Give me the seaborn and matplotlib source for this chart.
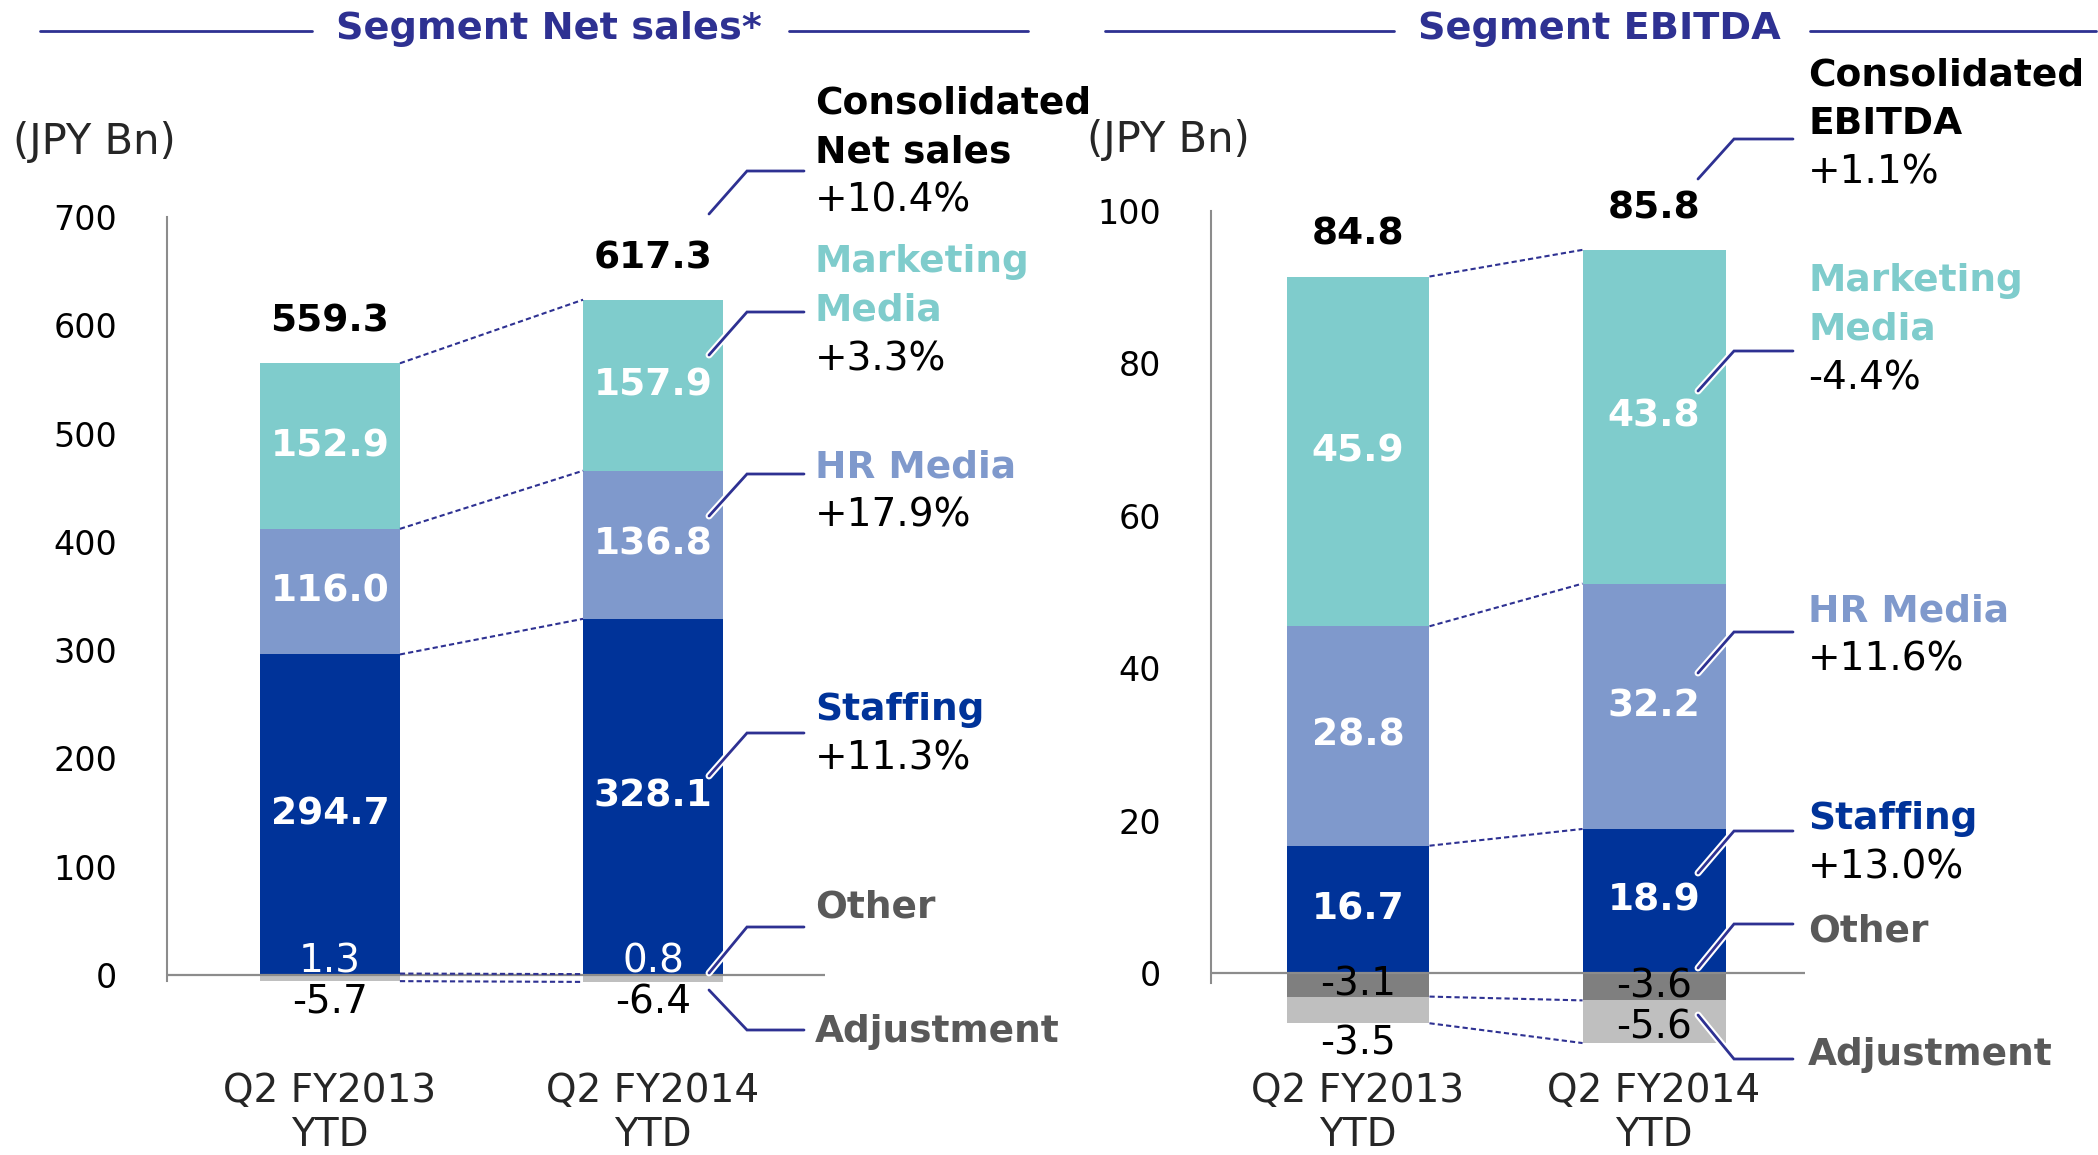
import numpy as np
import seaborn as sns
import matplotlib.pyplot as plt
import matplotlib.transforms as mtransforms
from matplotlib import patheffects
from matplotlib.lines import Line2D

W, H = 2098, 1155

periods = ["Q2 FY2013\nYTD", "Q2 FY2014\nYTD"]

# Segment net sales (JPY Bn)
sales_other = [1.3, 0.8]
sales_staffing = [294.7, 328.1]
sales_hr = [116.0, 136.8]
sales_marketing = [152.9, 157.9]
sales_adjustment = [-5.7, -6.4]
sales_total = [559.3, 617.3]
sales_ticks = [0, 100, 200, 300, 400, 500, 600, 700]
sales_names = ["Consolidated\nNet sales", "Marketing\nMedia", "HR Media", "Staffing", "Other", "Adjustment"]
sales_growth = ["+10.4%", "+3.3%", "+17.9%", "+11.3%", "", ""]

# Segment EBITDA (JPY Bn)
ebitda_other = [-3.1, -3.6]
ebitda_staffing = [16.7, 18.9]
ebitda_hr = [28.8, 32.2]
ebitda_marketing = [45.9, 43.8]
ebitda_adjustment = [-3.5, -5.6]
ebitda_total = [84.8, 85.8]
ebitda_ticks = [0, 20, 40, 60, 80, 100]
ebitda_names = ["Consolidated\nEBITDA", "Marketing\nMedia", "HR Media", "Staffing", "Other", "Adjustment"]
ebitda_growth = ["+1.1%", "-4.4%", "+11.6%", "+13.0%", "", ""]

STAFF = "#003399"
HR = "#7F99CC"
MKT = "#7FCCCC"
OTHER = "#7F7F7F"
ADJ = "#BFBFBF"
INDIGO = "#2E3192"
GREY_TXT = "#595959"
AXIS = "#8C8C8C"
name_colors = ["black", MKT, HR, STAFF, GREY_TXT, GREY_TXT]

sns.set_style("white")
plt.rcParams["font.family"] = ["DejaVu Sans"]

fig = plt.figure(figsize=(W / 100, H / 100), dpi=100)


def fx(x):
    return x / W


def fy(y):
    return 1 - y / H


def draw_panel(ax, other, staffing, hr, marketing, adjustment, totals, width, ticks, ylim, xlim, spine_low):
    other = np.array(other)
    pos_base = np.where(other > 0, other, 0.0)
    staff_top = pos_base + np.array(staffing)
    hr_top = staff_top + np.array(hr)
    mkt_top = hr_top + np.array(marketing)
    neg_base = np.where(other < 0, other, 0.0)
    adj_bottom = neg_base + np.array(adjustment)

    # overlapping bars, outermost first
    layers = [(mkt_top, MKT), (hr_top, HR), (staff_top, STAFF), (pos_base, OTHER),
              (adj_bottom, ADJ), (neg_base, OTHER)]
    for vals, col in layers:
        sns.barplot(x=periods, y=vals, color=col, width=width, saturation=1,
                    errorbar=None, linewidth=0, edgecolor="none", ax=ax)

    ax.set_xlim(*xlim)
    ax.set_ylim(*ylim)
    ax.set_xlabel("")
    ax.set_ylabel("")
    ax.set_xticks([])
    ax.set_yticks(ticks)
    ax.set_yticklabels([str(t) for t in ticks])
    ax.tick_params(axis="y", length=8, width=1.5, color=AXIS, pad=28, labelsize=24, labelcolor="black")
    sns.despine(ax=ax, bottom=True)
    ax.spines["left"].set_color(AXIS)
    ax.spines["left"].set_linewidth(1.5)
    ax.spines["left"].set_bounds(spine_low, ticks[-1])
    ax.axhline(0, color=AXIS, lw=1.6, zorder=3)

    # px per data unit for label placement decisions
    scale = ax.transData.transform((0, 1))[1] - ax.transData.transform((0, 0))[1]

    for i in range(len(periods)):
        for lo, hi in [(pos_base[i], staff_top[i]), (staff_top[i], hr_top[i]), (hr_top[i], mkt_top[i])]:
            ax.text(i, (lo + hi) / 2, f"{hi - lo:.1f}", ha="center", va="center",
                    color="white", fontsize=27, fontweight="bold", zorder=4)
        ax.annotate(f"{totals[i]:.1f}", xy=(i, mkt_top[i]), xytext=(0, 30), textcoords="offset points",
                    ha="center", va="center", fontsize=27, fontweight="bold", color="black")
        if other[i] > 0:
            ax.annotate(f"{other[i]:.1f}", xy=(i, 0), xytext=(0, 2), textcoords="offset points",
                        ha="center", va="baseline", fontsize=28, color="white", zorder=4)
        else:
            ax.text(i, other[i] / 2, f"{other[i]:.1f}", ha="center", va="center",
                    fontsize=28, color="black", zorder=4)
        adj = adjustment[i]
        if abs(adj) * scale > 35:
            ax.annotate(f"{adj:.1f}", xy=(i, (neg_base[i] + adj_bottom[i]) / 2), xytext=(0, -4),
                        textcoords="offset points", ha="center", va="center",
                        fontsize=28, color="black", zorder=4)
        else:
            ax.annotate(f"{adj:.1f}", xy=(i, adj_bottom[i]), xytext=(0, -1), textcoords="offset points",
                        ha="center", va="top", fontsize=28, color="black", zorder=4)

    # dashed connectors between the two bars
    bounds = [mkt_top, hr_top, staff_top, adj_bottom]
    if np.any(pos_base > 0):
        bounds.append(pos_base)
    if np.any(neg_base < 0):
        bounds.append(neg_base)
    for b in bounds:
        ax.plot([width / 2, 1 - width / 2], [b[0], b[1]], color=INDIGO, lw=1.5,
                ls=(0, (2.5, 1.5)), zorder=3)

    # category labels below the axes
    trans = mtransforms.blended_transform_factory(ax.transData, fig.transFigure)
    for i, p in enumerate(periods):
        fig.text(i, fy(1113), p, transform=trans, ha="center", va="center",
                 fontsize=28, linespacing=1.2)


def callouts(names, growth, text_x, name_y, leaders, lx0, lx1, lx2):
    for name, g, col, y0, (sy, ky) in zip(names, growth, name_colors, name_y, leaders):
        lines = name.split("\n")
        for k, ln in enumerate(lines):
            fig.text(fx(text_x), fy(y0 + k * 48.5), ln, ha="left", va="center",
                     fontsize=27, fontweight="bold", color=col)
        if g:
            fig.text(fx(text_x), fy(y0 + len(lines) * 48.5), g, ha="left", va="center",
                     fontsize=28, color="black")
        fig.add_artist(Line2D([fx(lx0), fx(lx1), fx(lx2)], [fy(sy), fy(ky), fy(ky)],
                              transform=fig.transFigure, color=INDIGO, lw=2,
                              solid_joinstyle="miter", zorder=5,
                              path_effects=[patheffects.withStroke(linewidth=5, foreground="white")]))


def title(text, cx, lines):
    fig.text(fx(cx), fy(29), text, ha="center", va="center", fontsize=27.5,
             fontweight="bold", color=INDIGO)
    for a, b in lines:
        fig.add_artist(Line2D([fx(a), fx(b)], [fy(31), fy(31)], transform=fig.transFigure,
                              color=INDIGO, lw=2))


# left panel: net sales
ax1 = fig.add_axes([fx(167), fy(985.8), (825 - 167) / W, (985.8 - 217) / H])
draw_panel(ax1, sales_other, sales_staffing, sales_hr, sales_marketing, sales_adjustment,
           sales_total, 0.433, sales_ticks, (-10, 700), (-0.5046, 1.5325), -6)

# right panel: EBITDA
ax2 = fig.add_axes([fx(1211), fy(1064.4), (1805 - 1211) / W, (1064.4 - 211) / H])
draw_panel(ax2, ebitda_other, ebitda_staffing, ebitda_hr, ebitda_marketing, ebitda_adjustment,
           ebitda_total, 0.483, ebitda_ticks, (-12, 100), (-0.4966, 1.510), -1.3)

title("Segment Net sales*", 549, [(40, 312), (789, 1028)])
title("Segment EBITDA", 1599, [(1105, 1394), (1810, 2096)])

fig.text(fx(13), fy(142), "(JPY Bn)", ha="left", va="center", fontsize=30)
fig.text(fx(1087), fy(140), "(JPY Bn)", ha="left", va="center", fontsize=30)

callouts(sales_names, sales_growth, 815, [104, 262, 467, 710, 907, 1032],
         [(214, 171), (355, 312), (516, 474), (776, 733), (973, 927), (990, 1030)],
         709, 747, 804)
callouts(ebitda_names, ebitda_growth, 1808, [75, 281, 611, 819, 931, 1055],
         [(179, 139), (391, 351), (673, 632), (873, 831), (968, 924), (1015, 1059)],
         1698, 1734, 1793)

fig.savefig("out.png", dpi=100)
